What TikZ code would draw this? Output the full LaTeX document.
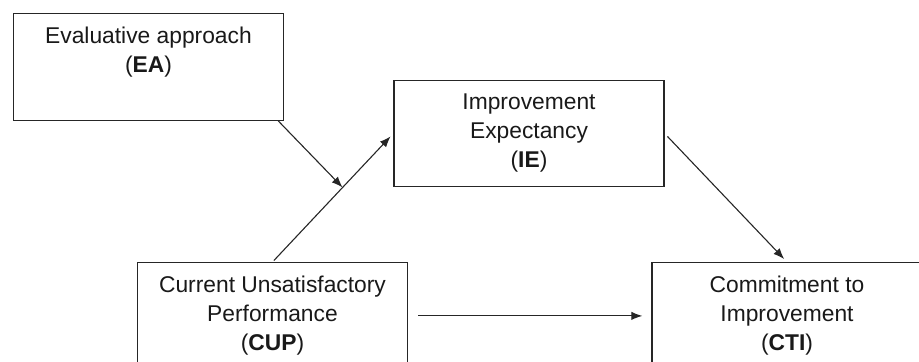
\documentclass[tikz,border=0pt]{standalone}
\usepackage{fontspec}
\setmainfont{Liberation Sans}
\usetikzlibrary{calc, arrows.meta}

\begin{document}
\begin{tikzpicture}[>={Latex[length=5.5pt, width=4.2pt]}, x=.5pt, y=-.5pt,
    box/.style={draw=black!85, line width=.65pt, minimum width=135pt, align=center, anchor=north,
        inner ysep=6.5pt, text depth=3pt, text=black!90, font=\fontsize{11.4}{14.5}\selectfont},
    arr/.style={->, draw=black!85, line width=.55pt}]
    \useasboundingbox (0, 0) rectangle (919, 362);
    \node[box, text depth=17.5pt] (ea) at (148.5, 13) {Evaluative approach\\(\textbf{EA})};
    \node[box] (ie) at (529, 80) {Improvement\\Expectancy\\(\textbf{IE})};
    \node[box] (cup) at (272.5, 262) {Current Unsatisfactory\\Performance\\(\textbf{CUP})};
    \node[box] (cti) at (787, 262) {Commitment to\\Improvement\\(\textbf{CTI})};
    \coordinate (mod) at ($(cup.north)!.58!(ie.west)$);
    \draw[arr, shorten <=1pt, shorten >=2pt] (cup.north) -- (ie.west);
    \draw[arr] ([xshift=-3pt]ea.south east) -- (mod);
    \draw[arr, shorten <=2pt, shorten >=2pt] (ie.east) -- (cti.north);
    \draw[arr, shorten <=5pt, shorten >=4.5pt] (cup.east) -- (cup.east -| cti.west);
\end{tikzpicture}
\end{document}
